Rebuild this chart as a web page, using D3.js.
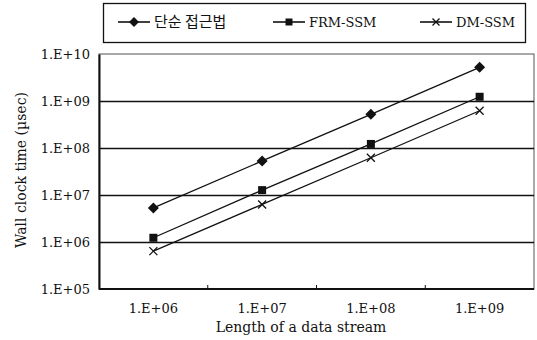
<!DOCTYPE html>
<html>
<head>
<meta charset="utf-8">
<script src="https://d3js.org/d3.v7.min.js"></script>
<style>
  body { margin: 0; background: #fff; }
  text { font-family: "DejaVu Serif", "Liberation Serif", serif; fill: #111; }
</style>
</head>
<body>
<div id="chart"></div>
<script>
// data
var categories = ["1.E+06", "1.E+07", "1.E+08", "1.E+09"]
var seriesNames = ["단순 접근법", "FRM-SSM", "DM-SSM"]
var naive = [5.3e6, 5.3e7, 5.2e8, 5.2e9]
var frm = [1.23e6, 1.27e7, 1.22e8, 1.23e9]
var dm = [6.4e5, 6.3e6, 6.2e7, 6.2e8]
var yTicks = [1e5, 1e6, 1e7, 1e8, 1e9, 1e10]
var yTickLabels = ["1.E+05", "1.E+06", "1.E+07", "1.E+08", "1.E+09", "1.E+10"]

var W = 537, H = 340
var margin = { top: 54, right: 3, bottom: 51, left: 99 }
var width = W - margin.left - margin.right
var height = H - margin.top - margin.bottom

var svg = d3.select("#chart").append("svg")
  .attr("width", W).attr("height", H)

var g = svg.append("g")
  .attr("transform", "translate(" + margin.left + "," + margin.top + ")")

var x = d3.scaleBand().domain(categories).range([0, width])
var y = d3.scaleLog().domain([1e5, 1e10]).range([height, 0])

// plot frame (thin top/right)
g.append("rect")
  .attr("x", 0).attr("y", 0)
  .attr("width", width).attr("height", height)
  .attr("fill", "none").attr("stroke", "#555").attr("stroke-width", 1)

// gridlines
g.selectAll(".grid")
  .data(yTicks.slice(1, -1))
  .enter().append("line")
  .attr("x1", 0).attr("x2", width)
  .attr("y1", function(d) { return Math.round(y(d)) + 0.5 })
  .attr("y2", function(d) { return Math.round(y(d)) + 0.5 })
  .attr("stroke", "#111").attr("stroke-width", 1.5)

// y axis
var yAxis = g.append("g")
  .call(d3.axisLeft(y).tickValues(yTicks).tickSize(0).tickPadding(9)
    .tickFormat(function(d, i) { return yTickLabels[i] }))
yAxis.select(".domain").attr("stroke", "#111").attr("stroke-width", 2)
yAxis.selectAll("text").style("font-size", "13px")
  .style("font-family", "'DejaVu Serif', serif").attr("fill", "#111")

// x axis: ticks between categories, pointing up
var bounds = categories.slice(1).map(function(c) { return x(c) })
var xAxis = g.append("g").attr("transform", "translate(0," + height + ")")
xAxis.append("line").attr("x1", 0).attr("x2", width)
  .attr("stroke", "#111").attr("stroke-width", 2)
xAxis.selectAll(".tk").data(bounds).enter().append("line")
  .attr("x1", function(d) { return d }).attr("x2", function(d) { return d })
  .attr("y1", 0).attr("y2", -4)
  .attr("stroke", "#111").attr("stroke-width", 1)
xAxis.selectAll(".lbl").data(categories).enter().append("text")
  .attr("x", function(d) { return x(d) + x.bandwidth() / 2 })
  .attr("y", 24)
  .attr("text-anchor", "middle")
  .style("font-size", "13px")
  .text(function(d) { return d })

// axis titles
svg.append("text")
  .attr("x", 301).attr("y", 332)
  .attr("text-anchor", "middle")
  .style("font-size", "14px")
  .text("Length of a data stream")

svg.append("text")
  .attr("transform", "translate(26," + 170 + ") rotate(-90)")
  .attr("text-anchor", "middle")
  .style("font-size", "14px")
  .text("Wall clock time (µsec)")

// lines + markers
var line = d3.line()
  .x(function(d, i) { return x(categories[i]) + x.bandwidth() / 2 })
  .y(function(d) { return y(d) })

var allSeries = [naive, frm, dm]
var shapes = ["diamond", "square", "cross"]

function diamondPath(cx, cy, r) {
  return "M" + cx + "," + (cy - r) + "L" + (cx + r) + "," + cy +
    "L" + cx + "," + (cy + r) + "L" + (cx - r) + "," + cy + "Z"
}

function drawMarker(sel, shape, cx, cy, s) {
  if (shape === "diamond") {
    sel.append("path").attr("d", diamondPath(cx, cy, s + 1.5)).attr("fill", "#111")
  } else if (shape === "square") {
    sel.append("rect")
      .attr("x", cx - s).attr("y", cy - s)
      .attr("width", 2 * s).attr("height", 2 * s)
      .attr("fill", "#111")
  } else {
    sel.append("path")
      .attr("d", "M" + (cx - s) + "," + (cy - s) + "L" + (cx + s) + "," + (cy + s) +
        "M" + (cx - s) + "," + (cy + s) + "L" + (cx + s) + "," + (cy - s))
      .attr("stroke", "#111").attr("stroke-width", 1.3)
  }
}

allSeries.forEach(function(s, k) {
  g.append("path").datum(s)
    .attr("d", line)
    .attr("fill", "none").attr("stroke", "#111").attr("stroke-width", 1.3)
  s.forEach(function(v, i) {
    drawMarker(g, shapes[k], x(categories[i]) + x.bandwidth() / 2, y(v), 4)
  })
})

// legend
var legend = svg.append("g")
legend.append("rect")
  .attr("x", 103.5).attr("y", 3.5).attr("width", 422).attr("height", 39)
  .attr("fill", "#fff").attr("stroke", "#111").attr("stroke-width", 1.3)

var legendX = [118, 273, 420]
var ly = 22
seriesNames.forEach(function(name, k) {
  var lx = legendX[k]
  legend.append("line").attr("x1", lx).attr("x2", lx + 32)
    .attr("y1", ly).attr("y2", ly)
    .attr("stroke", "#111").attr("stroke-width", 1.6)
  drawMarker(legend, shapes[k], lx + 16, ly, 3.5)
  legend.append("text")
    .attr("x", lx + 36).attr("y", ly + 5)
    .style("font-size", k === 0 ? "15px" : "13px")
    .style("font-family", k === 0 ? "'Noto Sans CJK KR', sans-serif" : "'DejaVu Serif', serif")
    .text(name)
})
</script>
</body>
</html>
